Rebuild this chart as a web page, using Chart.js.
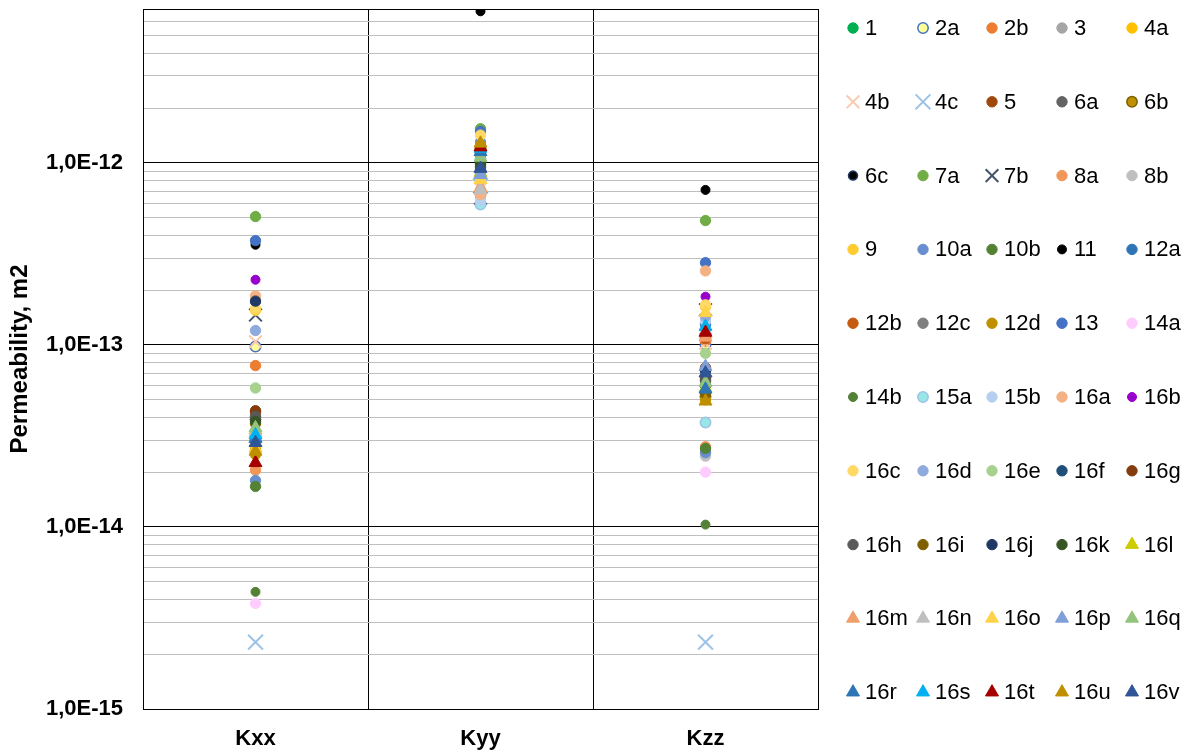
<!DOCTYPE html>
<html>
<head>
<meta charset="utf-8">
<script src="https://cdn.jsdelivr.net/npm/chart.js@4/dist/chart.umd.min.js"></script>
<style>
  html, body { margin: 0; padding: 0; background: #fff; }
</style>
</head>
<body>
<canvas id="perm" width="1190" height="751"></canvas>
<script>
// categories and series
const categories = ['Kxx', 'Kyy', 'Kzz']
const seriesNames = ['1', '2a', '2b', '3', '4a', '4b', '4c', '5', '6a', '6b',
  '6c', '7a', '7b', '8a', '8b', '9', '10a', '10b', '11', '12a',
  '12b', '12c', '12d', '13', '14a', '14b', '15a', '15b', '16a', '16b',
  '16c', '16d', '16e', '16f', '16g', '16h', '16i', '16j', '16k', '16l',
  '16m', '16n', '16o', '16p', '16q', '16r', '16s', '16t', '16u', '16v']

// permeability values (m2), one entry per series
const kxx = [3.9e-14, 9.8e-14, 7.7e-14, 3.0e-14, 2.7e-14, 1.04e-13, 2.33e-15, 4.3e-14, 4.0e-14, 2.6e-14,
  1.72e-13, 5.07e-13, 1.46e-13, 2.05e-14, 3.3e-14, 1.55e-13, 1.8e-14, 1.67e-14, 3.55e-13, 3.1e-14,
  4.2e-14, 3.9e-14, 2.5e-14, 3.74e-13, 3.8e-15, 4.4e-15, 3.2e-14, 3.1e-14, 1.86e-13, 2.28e-13,
  1.58e-13, 1.2e-13, 5.8e-14, 3.9e-14, 4.35e-14, 4.05e-14, 3.7e-14, 1.74e-13, 3.8e-14, 3.4e-14,
  3.3e-14, 3.3e-14, 2.7e-14, 3.1e-14, 3.5e-14, 3.05e-14, 3.2e-14, 2.25e-14, 2.6e-14, 2.9e-14]
const kyy = [1.0e-12, 8.5e-13, 9.0e-13, 7.8e-13, 8.0e-13, 7.2e-13, 7.5e-13, 1.1e-12, 9.5e-13, 1.2e-12,
  6.6e-13, 1.54e-12, 6.4e-13, 6.7e-13, 7.1e-13, 8.2e-13, 1.3e-12, 1.05e-12, 6.8e-12, 1.14e-12,
  1.15e-12, 9.2e-13, 1.25e-12, 1.49e-12, 7.0e-13, 1.0e-12, 5.9e-13, 6.2e-13, 6.7e-13, 1.1e-12,
  1.42e-12, 8.7e-13, 1.05e-12, 1.0e-12, 1.15e-12, 9.5e-13, 1.2e-12, 9.0e-13, 9.8e-13, 8.8e-13,
  7.3e-13, 7.1e-13, 8.1e-13, 8.6e-13, 1.07e-12, 1.15e-12, 1.2e-12, 1.22e-12, 1.28e-12, 9.3e-13]
const kzz = [6.5e-14, 1.0e-13, 1.05e-13, 6.0e-14, 6.8e-14, 1.02e-13, 2.33e-15, 7.5e-14, 5.5e-14, 5.2e-14,
  2.6e-14, 4.82e-13, 1.56e-13, 2.76e-14, 2.45e-14, 1.62e-13, 2.56e-14, 2.7e-14, 7.1e-13, 1.3e-13,
  1.08e-13, 6.3e-14, 5.0e-14, 2.83e-13, 2.0e-14, 1.03e-14, 3.75e-14, 1.35e-13, 2.55e-13, 1.84e-13,
  1.66e-13, 1.43e-13, 9.0e-14, 7.2e-14, 6.6e-14, 6.4e-14, 5.4e-14, 7.3e-14, 6.0e-14, 5.8e-14,
  1.1e-13, 1.2e-13, 1.5e-13, 7.6e-14, 6.2e-14, 5.7e-14, 1.26e-13, 1.17e-13, 4.9e-14, 7.0e-14]

// marker styles
const fills = ['#00B050', '#FFFF99', '#ED7D31', '#A5A5A5', '#FFC000', '#F8CBAD', '#9DC3E6', '#9E480E', '#636363', '#BF9000',
  '#000000', '#70AD47', '#44546A', '#F1975A', '#BFBFBF', '#FFCB2F', '#698ED0', '#548235', '#000000', '#2E75B6',
  '#C55A11', '#7F7F7F', '#BF9000', '#4472C4', '#FFCCFF', '#538135', '#99E6E6', '#B4D0EE', '#F4B183', '#9900CC',
  '#FFD966', '#8FAADC', '#A9D18E', '#1F4E79', '#843C0C', '#595959', '#7F6000', '#203864', '#375623', '#CCCC00',
  '#F19F6A', '#BFBFBF', '#FFD347', '#7F9FD8', '#93C47D', '#2E75B6', '#00B0F0', '#A50000', '#BF8F00', '#2F5597']
const edges = {1: '#4472C4', 9: '#7F6000', 10: '#1F3864', 26: '#9DC3E6'}
const shapes = seriesNames.map((n, i) => {
  if (n === '4b' || n === '4c' || n === '7b') return 'crossRot'
  if (i >= 39) return 'triangle'
  return 'circle'
})
const smallDots = ['6c', '11', '14b', '16b']

const yTicks = []
for (let e = -15; e <= -13; e++) {
  for (let m = 1; m <= 9; m++) yTicks.push(m * Math.pow(10, e))
}
for (let m = 1; m <= 7; m++) yTicks.push(m * 1e-12)

function isDecade(v) {
  const l = Math.log10(v)
  return Math.abs(l - Math.round(l)) < 1e-9
}

const font = '"Liberation Sans", Arial, sans-serif'

const datasets = seriesNames.map((name, i) => {
  const shape = shapes[i]
  let radius = 5.2
  if (shape === 'triangle') radius = 7.5
  if (shape === 'crossRot') radius = name === '4c' ? 10.5 : 9
  if (smallDots.includes(name)) radius = 4.5
  const fill = fills[i]
  const edge = shape === 'crossRot' ? fill : (edges[i] || fill)
  return {
    label: name,
    data: [kxx[i], kyy[i], kzz[i]],
    showLine: false,
    order: -i,
    pointStyle: shape,
    pointRadius: radius,
    pointHoverRadius: radius,
    pointBackgroundColor: fill,
    pointBorderColor: edge,
    pointBorderWidth: shape === 'crossRot' ? 2 : (edges[i] ? 1.5 : 1),
    backgroundColor: fill,
    borderColor: edge
  }
})

// legend laid out row by row, 5 per row
const legendCols = [853, 923, 992, 1062, 1132]
const gridLegend = {
  id: 'gridLegend',
  afterDraw(chart) {
    const ctx = chart.ctx
    ctx.save()
    chart.data.datasets.forEach((ds, i) => {
      const x = legendCols[i % 5]
      const y = 28 + Math.floor(i / 5) * 73.8
      ctx.fillStyle = ds.pointBackgroundColor
      ctx.strokeStyle = ds.pointBorderColor
      ctx.lineWidth = ds.pointBorderWidth
      Chart.helpers.drawPoint(ctx, {
        pointStyle: ds.pointStyle, radius: ds.pointRadius, rotation: 0, borderWidth: ds.pointBorderWidth
      }, x, y)
      ctx.fillStyle = '#000'
      ctx.font = '22px ' + font
      ctx.textBaseline = 'middle'
      ctx.textAlign = 'left'
      ctx.fillText(ds.label, x + 12, y + 1)
    })
    ctx.restore()
  }
}

new Chart(document.getElementById('perm'), {
  type: 'line',
  data: { labels: categories, datasets: datasets },
  plugins: [gridLegend],
  options: {
    responsive: false,
    devicePixelRatio: 1,
    animation: false,
    layout: { autoPadding: false, padding: { top: 9, right: 372, left: 0, bottom: 0 } },
    plugins: { legend: { display: false }, tooltip: { enabled: false } },
    scales: {
      x: {
        offset: true,
        grid: { offset: true, color: '#000', drawTicks: false },
        border: { color: '#000' },
        ticks: { padding: 17, color: '#000', font: { family: font, size: 22, weight: 'bold' } },
        afterFit: s => { s.height = 42; s.paddingLeft = 0; s.paddingRight = 0 }
      },
      y: {
        type: 'logarithmic',
        min: 1e-15,
        max: 7e-12,
        afterBuildTicks: s => { s.ticks = yTicks.map(v => ({ value: v })) },
        afterFit: s => { s.width = 143; s.paddingTop = 0; s.paddingBottom = 0 },
        grid: {
          drawTicks: false,
          color: c => (isDecade(c.tick.value) || c.tick.value > 6.9e-12) ? '#000' : '#BFBFBF'
        },
        border: { color: '#000' },
        ticks: {
          autoSkip: false,
          padding: 20,
          color: '#000',
          font: { family: font, size: 22, weight: 'bold' },
          callback: v => isDecade(v) ? '1,0E' + Math.round(Math.log10(v)) : ''
        },
        title: {
          display: true,
          text: 'Permeability, m2',
          color: '#000',
          padding: { top: 6, bottom: 0 },
          font: { family: font, size: 24, weight: 'bold' }
        }
      }
    }
  }
})
</script>
</body>
</html>
